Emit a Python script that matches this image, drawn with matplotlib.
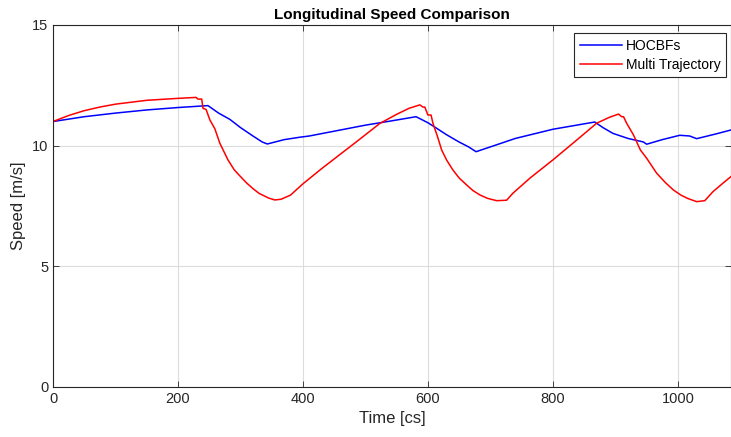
import numpy as np
import matplotlib.pyplot as plt

plt.rcParams['font.family'] = ['Liberation Sans', 'DejaVu Sans']

# HOCBFs speed profile (time in cs, speed in m/s)
t_hocbf = [0, 50, 100, 150, 200, 248, 265, 283, 300, 320, 335, 343, 370, 395,
           410, 450, 500, 540, 581, 600, 614, 630, 650, 665, 677, 700, 740,
           800, 867, 880, 896, 920, 942, 945, 950, 975, 1003, 1019, 1030,
           1060, 1085]
v_hocbf = [11.0, 11.2, 11.35, 11.48, 11.58, 11.66, 11.35, 11.09, 10.75,
           10.4, 10.15, 10.07, 10.25, 10.35, 10.4, 10.6, 10.85, 11.02, 11.2,
           10.95, 10.72, 10.45, 10.15, 9.95, 9.75, 9.95, 10.3, 10.68, 10.98,
           10.75, 10.51, 10.3, 10.17, 10.15, 10.06, 10.25, 10.43, 10.4, 10.29,
           10.48, 10.65]

# Multi Trajectory speed profile
t_multi = [0, 25, 50, 75, 100, 150, 200, 229, 232, 238, 240, 245, 251, 259,
           267, 280, 290, 300, 310, 320, 330, 345, 355, 365, 380, 400, 430,
           460, 490, 523, 550, 570, 587, 592, 595, 600, 605, 608, 615, 622,
           630, 640, 650, 662, 672, 683, 695, 710, 726, 736, 750, 763, 800,
           832, 870, 890, 905, 910, 913, 918, 929, 940, 950, 966, 980, 993,
           1005, 1015, 1030, 1043, 1056, 1070, 1085]
v_multi = [11.0, 11.25, 11.45, 11.6, 11.72, 11.88, 11.96, 12.0, 11.93,
           11.93, 11.55, 11.5, 11.07, 10.7, 10.1, 9.41, 9.0, 8.72, 8.45, 8.22,
           8.02, 7.83, 7.75, 7.78, 7.95, 8.42, 9.05, 9.65, 10.25, 10.92,
           11.3, 11.55, 11.69, 11.6, 11.6, 11.27, 11.27, 10.93, 10.4, 9.82,
           9.4, 8.99, 8.66, 8.37, 8.14, 7.96, 7.82, 7.72, 7.74, 8.03, 8.35,
           8.65, 9.41, 10.1, 10.93, 11.17, 11.31, 11.2, 11.2, 10.93, 10.44,
           9.82, 9.48, 8.86, 8.47, 8.16, 7.95, 7.82, 7.68, 7.72, 8.09, 8.4,
           8.72]

fig = plt.figure(figsize=(7.31, 4.37), dpi=100)
ax = fig.add_axes([53/731, 1-387/437, 1-53/731, (387-25)/437])

ax.plot(t_hocbf, v_hocbf, color='#0000ff', lw=1.1, label='HOCBFs')
ax.plot(t_multi, v_multi, color='#ff0000', lw=1.1, label='Multi Trajectory')

ax.set_xlim(0, 1085)
ax.set_ylim(0, 15)
ax.set_xticks([0, 200, 400, 600, 800, 1000])
ax.set_yticks([0, 5, 10, 15])
ax.grid(True, color='#dcdcdc', lw=0.8)
ax.set_axisbelow(True)
ax.tick_params(direction='in', length=4, colors='#262626', labelsize=10.5,
               top=True, right=True, width=0.6)
for s in ax.spines.values():
    s.set_color('#262626')
    s.set_linewidth(0.8)

ax.set_title('Longitudinal Speed Comparison', fontsize=11, fontweight='bold', pad=4)
ax.set_xlabel('Time [cs]', fontsize=12, color='#262626')
ax.set_ylabel('Speed [m/s]', fontsize=12, color='#262626')

leg = ax.legend(loc='upper right', fontsize=10, fancybox=False, framealpha=1,
                edgecolor='#262626', handlelength=3.0, borderpad=0.4,
                labelspacing=0.35, handletextpad=0.3, borderaxespad=0.2,
                bbox_to_anchor=(0.997, 0.985))
leg.get_frame().set_linewidth(0.8)

fig.savefig('out.png', dpi=100)
